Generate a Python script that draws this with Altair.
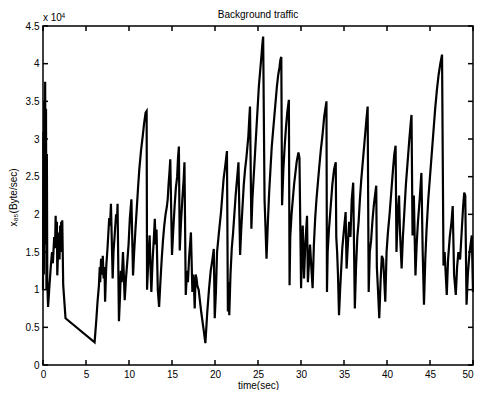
import altair as alt
import pandas as pd

# ---- data (rate in units of 10^4 Byte/sec) ----
time_s = [
    0.00, 0.05, 0.10, 0.15, 0.20, 0.25, 0.30, 0.35, 0.40, 0.45, 0.50, 0.59, 0.75, 0.90, 1.05, 1.15,
    1.30, 1.40, 1.47, 1.55, 1.62, 1.66, 1.75, 1.85, 1.92, 2.00, 2.05, 2.12, 2.18, 2.24, 2.35, 2.62,
    6.00, 6.20, 6.34, 6.50, 6.60, 6.65, 6.75, 6.85, 6.95, 7.05, 7.15, 7.22, 7.35, 7.50, 7.60, 7.70,
    7.80, 7.90, 8.10, 8.20, 8.35, 8.50, 8.60, 8.67, 8.83, 8.95, 9.05, 9.15, 9.30, 9.40, 9.50, 9.65,
    9.80, 9.95, 10.10, 10.28, 10.47, 10.60, 10.75, 10.90, 11.05, 11.20, 11.40, 11.60, 11.75, 11.93,
    12.05, 12.10, 12.25, 12.40, 12.50, 12.60, 12.75, 12.90, 13.00, 13.10, 13.20, 13.35, 13.50, 13.65,
    13.80, 13.95, 14.10, 14.25, 14.40, 14.50, 14.60, 14.70, 14.80, 15.00, 15.15, 15.30, 15.45, 15.60,
    15.70, 15.80, 15.90, 16.05, 16.20, 16.35, 16.45, 16.60, 16.75, 16.85, 17.00, 17.10, 17.20, 17.37,
    17.45, 17.55, 17.64, 17.75, 17.85, 17.95, 18.10, 18.40, 18.70, 18.88, 19.10, 19.30, 19.50, 19.70,
    19.86, 19.97, 20.10, 20.24, 20.45, 20.70, 20.85, 21.00, 21.20, 21.39, 21.50, 21.60, 21.66, 21.80,
    21.95, 22.10, 22.25, 22.40, 22.55, 22.73, 22.92, 23.05, 23.20, 23.35, 23.50, 23.65, 23.88, 24.00,
    24.07, 24.23, 24.35, 24.50, 24.65, 24.80, 24.95, 25.10, 25.25, 25.40, 25.50, 25.60, 25.76, 25.88,
    25.99, 26.15, 26.30, 26.45, 26.60, 26.75, 26.90, 27.05, 27.20, 27.35, 27.50, 27.60, 27.71, 27.80,
    27.95, 28.10, 28.25, 28.40, 28.59, 28.67, 28.75, 28.90, 29.05, 29.20, 29.35, 29.50, 29.70, 29.82,
    30.01, 30.10, 30.20, 30.35, 30.50, 30.70, 30.80, 30.95, 31.05, 31.20, 31.35, 31.50, 31.65, 31.80,
    31.95, 32.10, 32.30, 32.50, 32.70, 32.96, 33.02, 33.10, 33.25, 33.45, 33.65, 33.85, 34.04, 34.10,
    34.20, 34.30, 34.42, 34.55, 34.80, 35.00, 35.19, 35.30, 35.45, 35.60, 35.75, 35.90, 36.07, 36.26,
    36.40, 36.55, 36.70, 36.85, 37.00, 37.15, 37.30, 37.45, 37.60, 37.75, 37.87, 38.00, 38.15, 38.30,
    38.45, 38.60, 38.75, 38.82, 38.95, 39.10, 39.25, 39.40, 39.55, 39.65, 39.80, 39.95, 40.10, 40.30,
    40.50, 40.70, 40.85, 41.00, 41.10, 41.25, 41.40, 41.50, 41.70, 41.85, 42.00, 42.20, 42.40, 42.60,
    42.75, 42.85, 42.97, 43.12, 43.31, 43.45, 43.60, 43.80, 44.00, 44.15, 44.30, 44.45, 44.60, 44.80,
    45.00, 45.20, 45.40, 45.60, 45.80, 46.00, 46.20, 46.40, 46.57, 46.70, 46.95, 47.10, 47.30, 47.50,
    47.64, 47.80, 48.00, 48.15, 48.30, 48.50, 48.70, 48.85, 48.98, 49.10, 49.25, 49.40, 49.60, 49.86,
    50.00,
]
rate_e4 = [
    1.00, 3.10, 1.20, 3.50, 1.60, 3.76, 2.00, 3.40, 1.00, 2.80, 1.10, 0.77, 1.05, 1.30, 1.50, 1.35,
    1.70, 1.55, 1.98, 1.60, 1.90, 1.19, 1.50, 1.76, 1.40, 1.85, 1.60, 1.90, 1.50, 1.92, 1.06, 0.62,
    0.30, 0.60, 0.84, 1.05, 1.30, 1.10, 1.41, 1.20, 1.45, 1.15, 1.30, 0.84, 1.30, 1.55, 1.75, 1.95,
    1.85, 2.14, 1.15, 1.50, 1.75, 2.00, 1.90, 2.14, 0.58, 0.90, 1.25, 1.10, 1.50, 1.20, 0.86, 1.15,
    1.37, 1.60, 1.95, 2.20, 1.19, 1.50, 1.80, 2.07, 2.35, 2.60, 2.85, 3.04, 3.20, 3.35,
    3.37, 1.00, 1.40, 1.72, 1.30, 0.97, 1.40, 1.70, 1.94, 1.60, 1.80, 1.00, 0.77, 1.10,
    1.40, 1.65, 1.85, 2.00, 2.10, 2.20, 2.40, 2.55, 2.73, 1.46, 1.80, 2.10, 2.35, 2.50,
    2.75, 2.90, 1.52, 1.90, 2.20, 2.45, 2.69, 0.93, 1.25, 1.10, 1.45, 1.60, 1.76, 0.97,
    1.20, 1.05, 0.75, 1.20, 1.15, 1.05, 1.00, 0.70, 0.45, 0.29, 0.70, 1.00, 1.25, 1.40,
    1.54, 0.62, 0.95, 1.50, 1.75, 2.03, 2.25, 2.47, 2.65, 2.84, 0.71, 1.10, 0.66, 1.20,
    1.55, 1.75, 2.00, 2.25, 2.45, 2.69, 1.46, 1.80, 2.10, 2.40, 2.60, 2.75, 3.04, 3.30,
    3.43, 1.81, 2.20, 2.50, 2.80, 3.10, 3.40, 3.70, 3.90, 4.10, 4.25, 4.36, 2.20, 1.80,
    1.41, 1.90, 2.30, 2.60, 2.90, 3.10, 3.30, 3.50, 3.70, 3.85, 3.95, 4.05, 4.09, 2.12,
    2.60, 2.90, 3.15, 3.35, 3.52, 1.06, 1.70, 2.00, 2.20, 2.40, 2.55, 2.70, 2.82, 2.75,
    1.02, 1.50, 1.85, 1.15, 1.60, 1.98, 1.10, 1.40, 1.60, 1.30, 1.02, 1.60, 1.95, 2.20,
    2.40, 2.60, 2.85, 3.05, 3.30, 3.50, 0.97, 1.50, 1.80, 2.10, 2.40, 2.60, 2.69, 1.70,
    1.50, 1.20, 0.66, 1.00, 1.55, 1.80, 2.03, 1.28, 1.60, 1.90, 1.70, 2.20, 2.42, 0.75,
    1.30, 1.70, 1.90, 2.20, 2.45, 2.65, 2.85, 3.05, 3.25, 3.43, 0.97, 1.50, 1.65, 1.90,
    2.10, 2.25, 2.38, 1.30, 1.00, 0.62, 1.10, 1.45, 1.40, 1.20, 0.84, 1.50, 1.75, 2.00,
    2.30, 2.60, 2.80, 2.91, 1.50, 2.00, 2.25, 1.80, 1.28, 1.70, 2.00, 2.40, 2.70, 3.00,
    3.20, 3.32, 1.72, 2.25, 1.19, 1.60, 1.90, 2.20, 2.55, 1.50, 0.80, 1.40, 1.80, 2.20,
    2.50, 2.80, 3.10, 3.40, 3.65, 3.85, 4.00, 4.12, 1.32, 1.50, 0.93, 1.40, 1.70, 1.90,
    2.11, 1.20, 0.93, 1.30, 1.50, 1.40, 1.80, 2.10, 2.29, 2.25, 0.80, 1.20, 1.50, 1.72,
    0.97,
]
x_ticks = [0, 5, 10, 15, 20, 25, 30, 35, 40, 45, 50]
y_ticks = [0, 0.5, 1, 1.5, 2, 2.5, 3, 3.5, 4, 4.5]

chart_title = ["Background traffic"]
x_title = "time(sec)"
y_title = "x₈₅(Byte/sec)"
exp_base = ["x 10"]
exp_power = ["4"]

W, H = 430, 339
FONT = "Liberation Sans"
TICK = 5

df = pd.DataFrame({"t": time_s, "v": rate_e4})

x_enc = alt.X(
    "t:Q",
    scale=alt.Scale(domain=[0, 50], nice=False, zero=False),
    axis=alt.Axis(
        values=x_ticks, title=x_title, tickSize=0, domain=False, grid=False,
        labelPadding=4, labelFontSize=10, labelFont=FONT, labelColor="black",
        labelFlush=False, labelOverlap=False,
        labelAlign=alt.expr("datum.value >= 50 ? 'right' : 'center'"),
        titleFont=FONT, titleFontSize=10, titleFontWeight="normal", titleColor="black",
        titleY=20, titleBaseline="middle",
    ),
)
y_enc = alt.Y(
    "v:Q",
    scale=alt.Scale(domain=[0, 4.5], nice=False),
    axis=alt.Axis(
        values=y_ticks, format="~g", title=y_title, tickSize=0, domain=False, grid=False,
        labelPadding=4, labelFontSize=10, labelFont=FONT, labelColor="black",
        labelFlush=False, labelOverlap=False,
        titleFont=FONT, titleFontSize=10, titleFontWeight="normal", titleColor="black",
        titleX=-30, titleY=171, titleAngle=270, titleAlign="center", titleBaseline="middle",
    ),
)

line = alt.Chart(df).mark_line(color="black", strokeWidth=2.2).encode(x=x_enc, y=y_enc)

xt = pd.DataFrame({"t": x_ticks})
yt = pd.DataFrame({"v": y_ticks})
rule_style = dict(color="black", strokeWidth=1.5)
tick_bottom = alt.Chart(xt).mark_rule(**rule_style).encode(
    x=x_enc, y=alt.value(H), y2=alt.value(H - TICK))
tick_top = alt.Chart(xt).mark_rule(**rule_style).encode(
    x=x_enc, y=alt.value(0), y2=alt.value(TICK))
tick_left = alt.Chart(yt).mark_rule(**rule_style).encode(
    y=y_enc, x=alt.value(0), x2=alt.value(TICK))
tick_right = alt.Chart(yt).mark_rule(**rule_style).encode(
    y=y_enc, x=alt.value(W), x2=alt.value(W - TICK))

title_text = alt.Chart(pd.DataFrame({"s": chart_title})).mark_text(
    align="center", baseline="alphabetic", fontSize=10, font=FONT, color="black"
).encode(x=alt.value(W / 2), y=alt.value(-8.5), text="s:N")
note_base = alt.Chart(pd.DataFrame({"s": exp_base})).mark_text(
    align="left", baseline="alphabetic", fontSize=10, font=FONT, color="black"
).encode(x=alt.value(0), y=alt.value(-5.5), text="s:N")
note_pow = alt.Chart(pd.DataFrame({"s": exp_power})).mark_text(
    align="left", baseline="alphabetic", fontSize=6.5, font=FONT, color="black"
).encode(x=alt.value(18.5), y=alt.value(-8.5), text="s:N")

chart = alt.layer(
    line, tick_bottom, tick_top, tick_left, tick_right, title_text, note_base, note_pow
).properties(
    width=W,
    height=H,
    padding={"left": 35, "top": 18, "right": 1, "bottom": 25},
    autosize=alt.AutoSizeParams(type="none"),
).configure_view(stroke="black", strokeWidth=1.5)

chart.save("out.html", embed_options={"renderer": "svg", "actions": False})
